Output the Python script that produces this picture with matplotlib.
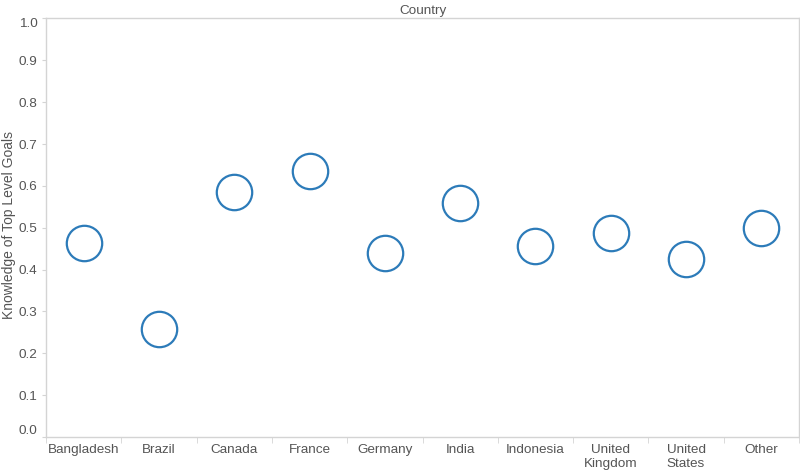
import matplotlib
matplotlib.use("Agg")
import matplotlib.pyplot as plt
import numpy as np

countries = ["Bangladesh", "Brazil", "Canada", "France", "Germany", "India",
             "Indonesia", "United\nKingdom", "United\nStates", "Other"]
knowledge = [0.463, 0.257, 0.585, 0.636, 0.439, 0.559, 0.456, 0.487, 0.425, 0.499]
y_ticks = [0.0, 0.1, 0.2, 0.3, 0.4, 0.5, 0.6, 0.7, 0.8, 0.9, 1.0]

plt.rcParams['font.family'] = ['Liberation Sans', 'DejaVu Sans']

fig = plt.figure(figsize=(8, 4.74), dpi=100)
ax = fig.add_axes([46/800, 1-437/474, 753/800, (437-18.5)/474])

x = np.arange(len(countries))
ax.plot(x, knowledge, linestyle='none', marker='o', markersize=25.5,
        markerfacecolor='none', markeredgecolor='#2c7bb9', markeredgewidth=1.6)

ax.set_xlim(-0.5, len(countries)-0.5)
ax.set_ylim(0, 1)

grey = '#d4d4d4'
txt = '#555555'
for s in ['left', 'bottom', 'top', 'right']:
    ax.spines[s].set_color(grey)
    ax.spines[s].set_linewidth(1.0)

ax.set_xticks(x)
ax.set_xticklabels(countries, fontsize=9.7, color=txt, linespacing=1.2)
ax.tick_params(axis='x', which='major', length=0, pad=5)
ax.set_xticks(np.arange(-0.5, len(countries), 1.0), minor=True)
ax.tick_params(axis='x', which='minor', length=4, color=grey)

ax.set_yticks(y_ticks)
ax.set_yticklabels([f"{v:.1f}" for v in y_ticks], fontsize=9.7, color=txt)
ax.tick_params(axis='y', which='major', length=3, color=grey, pad=3)
labels = ax.get_yticklabels()
labels[0].set_va('bottom')
labels[-1].set_va('top')

ax.set_ylabel("Knowledge of Top Level Goals", fontsize=10, color=txt)
ax.yaxis.set_label_coords(-30/753, 0.507)
ax.set_title("Country", fontsize=9.7, color=txt, pad=3)

fig.savefig("out.png", dpi=100)
